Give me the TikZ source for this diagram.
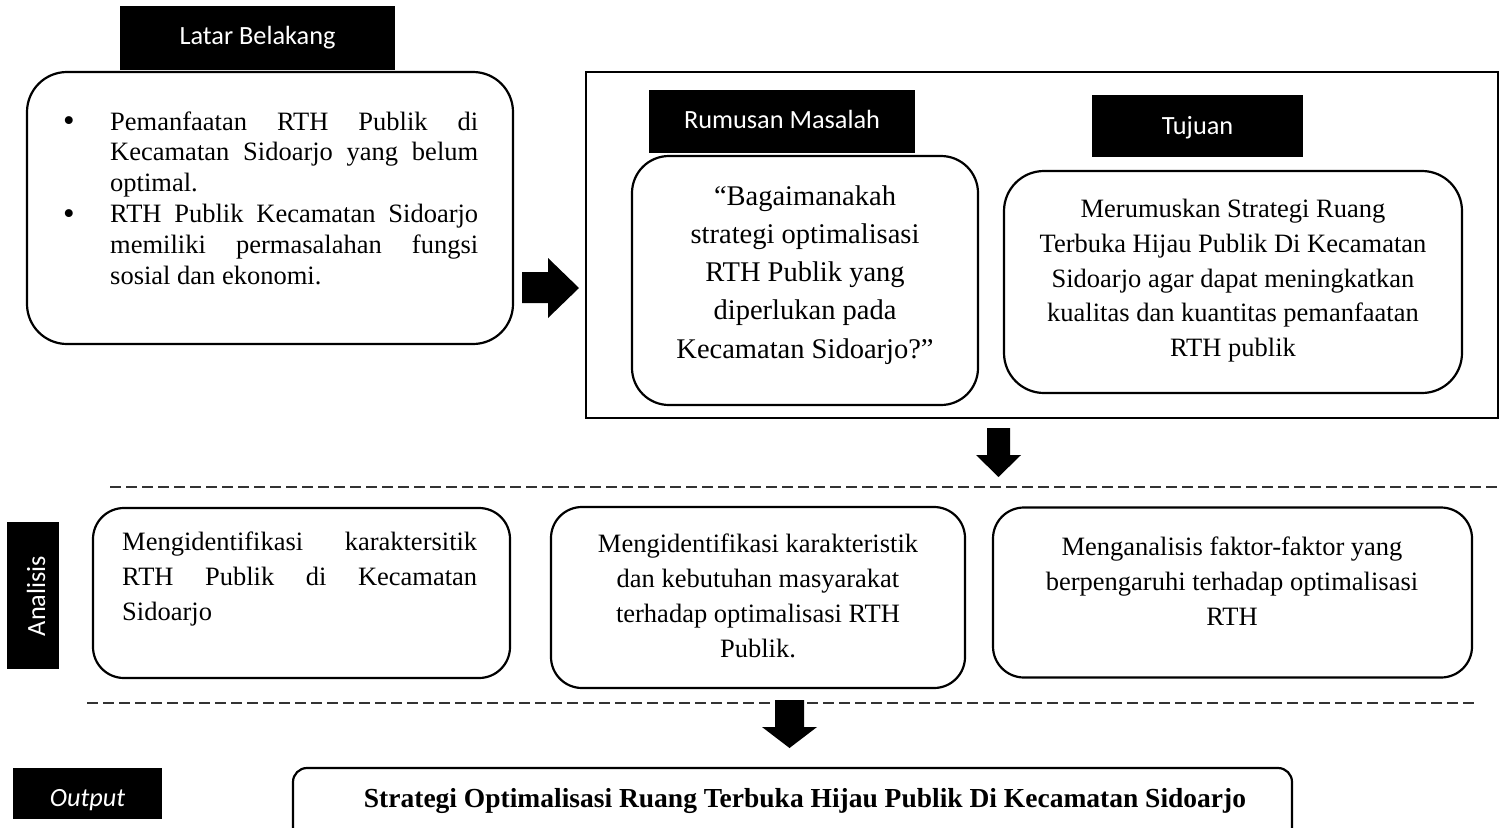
\documentclass[tikz,border=0pt]{standalone}
\usepackage{fontspec}
\setmainfont{Liberation Serif}
\newfontfamily\lblfont{Carlito}
\hyphenpenalty=10000
\exhyphenpenalty=10000
\newcommand\bigbul{\llap{\makebox[47pt][l]{\fontsize{33}{30}\selectfont\raisebox{-1.5pt}{\textbullet}}}}
\begin{document}
\begin{tikzpicture}[x=1pt,y=-1pt,
  lbl/.style={fill=black,text=white,inner sep=0pt,font=\lblfont\fontsize{26.3}{30}\selectfont},
  lbltext/.style={text=white,inner sep=0pt,anchor=base,font=\lblfont\fontsize{26.3}{30}\selectfont},
  rbox/.style={draw=black,line width=2.2pt,inner sep=0pt},
  frame/.style={draw=black,line width=2pt,inner sep=0pt},
  body/.style={inner sep=0pt,font=\fontsize{26.5}{#1}\selectfont},
  big/.style={inner sep=0pt,font=\fontsize{28.5}{38.25}\selectfont},
  blockarrow/.style={fill=black,draw=none},
  dashline/.style={draw=black!80,line width=1.3pt,dash pattern=on 11pt off 5pt}
]
\useasboundingbox (0,0) rectangle (1504,827);

% ---- Latar Belakang ----
\node[lbl,minimum width=275pt,minimum height=64pt] (lbl1) at (257.5,38) {};
\node[lbltext] (lbl1t) at (257.5,44.5) {Latar Belakang};
\node[rbox,rounded corners=40pt,minimum width=486pt,minimum height=272pt] (lb) at (270,208) {};
\node[body=30.8,anchor=north west,text width=368pt,align=justify] (lbt) at (110,108.4)
  {\noindent\strut\bigbul Pemanfaatan RTH Publik di\linebreak Kecamatan Sidoarjo yang belum\linebreak optimal.\par
   \noindent\strut\bigbul RTH Publik Kecamatan Sidoarjo\linebreak memiliki permasalahan fungsi\linebreak sosial dan ekonomi.};

% ---- frame with Rumusan Masalah and Tujuan ----
\node[frame,minimum width=912pt,minimum height=346pt] (fr) at (1042,245) {};
\node[lbl,minimum width=266pt,minimum height=63pt] (lbl2) at (782,121.5) {};
\node[lbltext] (lbl2t) at (782,128) {Rumusan Masalah};
\node[rbox,rounded corners=37pt,minimum width=346pt,minimum height=249pt] (rm) at (805,280.5) {};
\node[big,anchor=north,align=center] (rmt) at (805,178.2)
  {\strut “Bagaimanakah\\strategi optimalisasi\\RTH Publik yang\\diperlukan pada\\Kecamatan Sidoarjo?”};
\node[lbl,minimum width=211pt,minimum height=62pt] (lbl3) at (1197.5,126) {};
\node[lbltext] (lbl3t) at (1197.5,134) {Tujuan};
\node[rbox,rounded corners=40pt,minimum width=458pt,minimum height=222pt] (tj) at (1233,282) {};
\node[body=34.75,anchor=north,align=center] (tjt) at (1233,193.1)
  {\strut Merumuskan Strategi Ruang\\Terbuka Hijau Publik Di Kecamatan\\Sidoarjo agar dapat meningkatkan\\kualitas dan kuantitas pemanfaatan\\RTH publik};

% ---- arrows ----
\fill[blockarrow] (522,272) -- (548,272) -- (548,258) -- (579,288) -- (548,318) -- (548,303) -- (522,303) -- cycle;
\fill[blockarrow] (987,428) -- (1010,428) -- (1010,455) -- (1021,455) -- (998.5,477) -- (976,455) -- (987,455) -- cycle;

% ---- dashed separators ----
\coordinate (d1a) at (110,487); \coordinate (d1b) at (1497,487);
\coordinate (d2a) at (87,703);  \coordinate (d2b) at (1477,703);
\draw[dashline] (d1a) -- (d1b);
\draw[dashline] (d2a) -- (d2b);

% ---- Analisis ----
\node[lbl,minimum width=52pt,minimum height=147pt] (lbl4) at (33,595.5) {};
\node[lbltext,rotate=90] (lbl4t) at (45,596) {Analisis};
\node[rbox,rounded corners=31pt,minimum width=417pt,minimum height=170pt] (a1) at (301.5,593) {};
\node[body=35,anchor=north west,text width=355pt,align=justify] (a1t) at (122,525.9)
  {\strut Mengidentifikasi karaktersitik\linebreak RTH Publik di Kecamatan\linebreak Sidoarjo};
\node[rbox,rounded corners=31pt,minimum width=414pt,minimum height=181pt] (a2) at (758,597.5) {};
\node[body=35,anchor=north,align=center] (a2t) at (758,527.9)
  {\strut Mengidentifikasi karakteristik\\dan kebutuhan masyarakat\\terhadap optimalisasi RTH\\Publik.};
\node[rbox,rounded corners=31pt,minimum width=479pt,minimum height=170pt] (a3) at (1232.5,592.5) {};
\node[body=35,anchor=north,align=center] (a3t) at (1232,530.5)
  {\strut Menganalisis faktor-faktor yang\\berpengaruhi terhadap optimalisasi\\RTH};

\fill[blockarrow] (775,700) -- (804,700) -- (804,727) -- (817,727) -- (789.5,748) -- (762,727) -- (775,727) -- cycle;

% ---- Output ----
\node[lbl,minimum width=149pt,minimum height=51pt] (lbl5) at (87.5,793.5) {};
\node[lbltext,font=\lblfont\itshape\fontsize{26.3}{30}\selectfont] (lbl5t) at (87.5,806) {Output};
\node[rbox,rounded corners=14pt,minimum width=999pt,minimum height=90pt] (ob) at (792.5,813) {};
\node[inner sep=0pt,anchor=base,font=\bfseries\fontsize{27.5}{30}\selectfont] (obt) at (805,807)
  {Strategi Optimalisasi Ruang Terbuka Hijau Publik Di Kecamatan Sidoarjo};
\end{tikzpicture}
\end{document}
